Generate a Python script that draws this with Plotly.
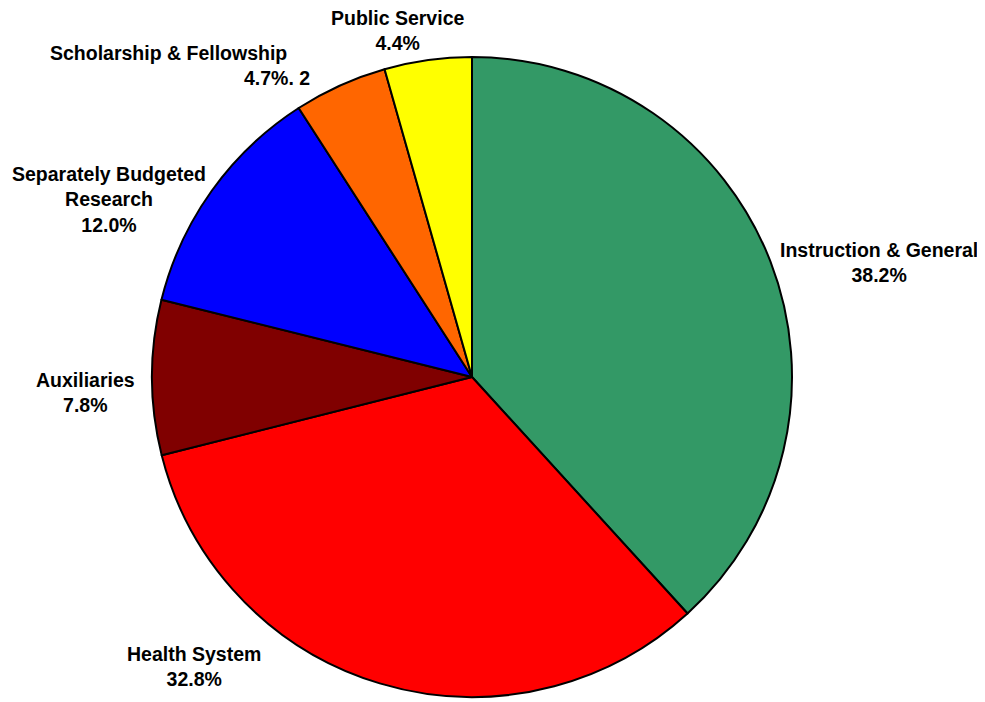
import plotly.graph_objects as go

categories = ["Instruction & General", "Health System", "Auxiliaries",
              "Separately Budgeted Research", "Scholarship & Fellowship", "Public Service"]
values = [38.2, 32.8, 7.8, 12.0, 4.7, 4.4]
colors = ["#339966", "#FF0000", "#800000", "#0000FF", "#FF6600", "#FFFF00"]

# label texts (as shown in the reference)
label_texts = [
    "Instruction & General<br>38.2%",
    "Health System<br>32.8%",
    "Auxiliaries<br>7.8%",
    "Separately Budgeted<br>Research<br>12.0%",
    None,
    "Public Service<br>4.4%",
]
# label positions in page pixels (center x, center y)
label_pos = [(878.5, 262), (194, 666), (85.5, 392), (109, 200), None, (397.5, 30)]

OFF = 8  # default body margin of the html page
W, H = 985 - OFF, 702 - OFF
cx, cy, r = 472 - OFF, 377 - OFF, 320


def px(x):
    return (x - OFF) / W


def py(y):
    return 1 - (y - OFF) / H


fig = go.Figure(go.Pie(
    labels=categories,
    values=values,
    sort=False,
    direction="clockwise",
    rotation=0,
    marker=dict(colors=colors, line=dict(color="black", width=2)),
    textinfo="none",
    hoverinfo="label+percent",
    domain=dict(x=[(cx - r) / W, (cx + r) / W], y=[1 - (cy + r) / H, 1 - (cy - r) / H]),
))

font = dict(family="Liberation Sans, Arial, sans-serif", size=19.5, color="black")
annotations = []
for txt, pos in zip(label_texts, label_pos):
    if txt is None:
        continue
    annotations.append(dict(
        x=px(pos[0]), y=py(pos[1]), xref="paper", yref="paper",
        text="<b>" + txt + "</b>", showarrow=False, align="center",
        xanchor="center", yanchor="middle", font=font,
    ))
# Scholarship & Fellowship label (two offset lines)
annotations.append(dict(x=px(168), y=py(53), xref="paper", yref="paper",
                        text="<b>Scholarship & Fellowship</b>", showarrow=False,
                        xanchor="center", yanchor="middle", font=font))
annotations.append(dict(x=px(277), y=py(78.5), xref="paper", yref="paper",
                        text="<b>4.7%. 2</b>", showarrow=False,
                        xanchor="center", yanchor="middle", font=font))

fig.update_layout(
    width=W, height=H,
    margin=dict(l=0, r=0, t=0, b=0),
    paper_bgcolor="white", plot_bgcolor="white",
    showlegend=False,
    annotations=annotations,
)

fig.write_html("out.html")
